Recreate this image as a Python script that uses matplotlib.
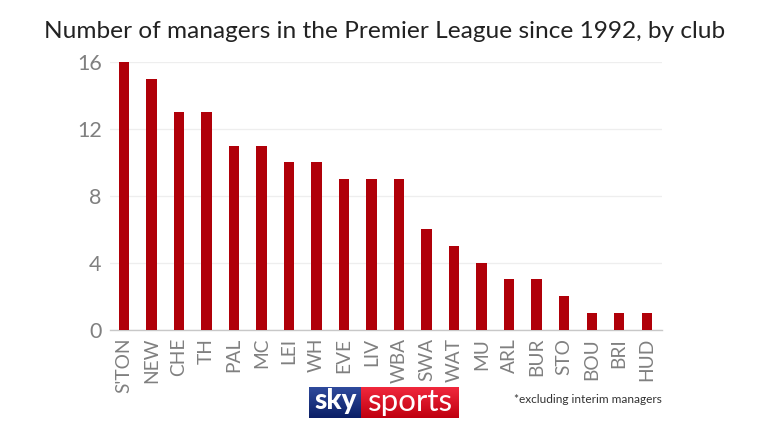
import numpy as np
import matplotlib
matplotlib.use('Agg')
from matplotlib import pyplot as plt

clubs = ["S'TON", 'NEW', 'CHE', 'TH', 'PAL', 'MC', 'LEI', 'WH', 'EVE', 'LIV',
         'WBA', 'SWA', 'WAT', 'MU', 'ARL', 'BUR', 'STO', 'BOU', 'BRI', 'HUD']
managers = [16, 15, 13, 13, 11, 11, 10, 10, 9, 9, 9, 6, 5, 4, 3, 3, 2, 1, 1, 1]
y_ticks = [0, 4, 8, 12, 16]

W, H = 768, 432
plt.rcParams['font.family'] = ['Lato', 'DejaVu Sans']


def box(x0, y0, x1, y1):
    # pixel box (top-left origin) to figure fractions
    return [x0 / W, 1 - y1 / H, (x1 - x0) / W, (y1 - y0) / H]


fig = plt.figure(figsize=(W / 100, H / 100), dpi=100, facecolor='white')

# chart
ax = fig.add_axes(box(110, 62, 662, 329.5))
ax.bar(range(len(clubs)), managers, width=0.37, color='#b00009', zorder=3)
ax.set_xlim(-0.51, 19.56)
ax.set_ylim(0, 16)
ax.set_yticks(y_ticks)
ax.set_xticks(range(len(clubs)))
ax.set_xticklabels(clubs, rotation=90, fontsize=13.8, color='#808080')
ax.tick_params(axis='x', length=0, pad=6)
ax.tick_params(axis='y', length=0, pad=6, labelsize=15.5, labelcolor='#808080')
ax.grid(axis='y', which='major', color='#eeeeee', lw=0.9, zorder=0)
for s in ['top', 'right', 'left']:
    ax.spines[s].set_visible(False)
ax.spines['bottom'].set_color('#c8c8c8')
ax.spines['bottom'].set_linewidth(1)

fig.text(384.5 / W, 1 - 32 / H, 'Number of managers in the Premier League since 1992, by club',
         ha='center', va='center', fontsize=17.6, color='#222222')
fig.text(662 / W, 1 - 399.5 / H, '*excluding interim managers',
         ha='right', va='center', fontsize=8.6, color='#333333')

# logo
blue = fig.add_axes(box(309, 387, 361, 418))
blue.imshow(np.linspace(0, 1, 50)[:, None], aspect='auto', cmap=matplotlib.colors.LinearSegmentedColormap.from_list('b', ['#2f4a9c', '#0b1f66']))
blue.axis('off')
red = fig.add_axes(box(361, 387, 459, 418))
red.imshow(np.linspace(0, 1, 50)[:, None], aspect='auto', cmap=matplotlib.colors.LinearSegmentedColormap.from_list('r', ['#f0283c', '#c00010']))
red.axis('off')
fig.text(336 / W, 1 - 401 / H, 'sky', ha='center', va='center', fontsize=20, color='white', fontweight='black')
fig.text(410 / W, 1 - 402 / H, 'sports', ha='center', va='center', fontsize=22.5, color='white')

fig.savefig('out.png', dpi=100)
